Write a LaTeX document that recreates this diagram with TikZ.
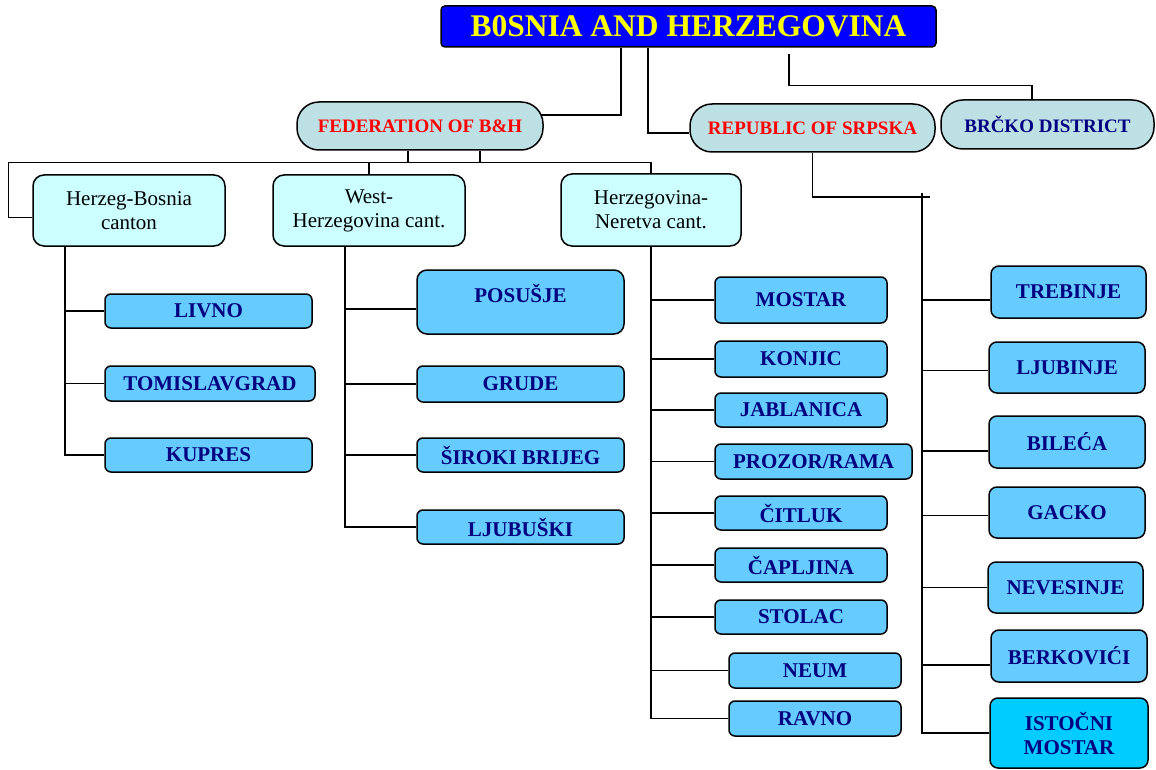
\documentclass[tikz,border=0pt]{standalone}
\usepackage{fontspec}
\setmainfont{Liberation Serif}
\usepackage{xcolor}
\definecolor{bhblue}{HTML}{0000FF}
\definecolor{bhyellow}{HTML}{FFFF00}
\definecolor{entityfill}{HTML}{BCE0E4}
\definecolor{entityred}{HTML}{FF0000}
\definecolor{cantonfill}{HTML}{CCFFFF}
\definecolor{townfill}{HTML}{66CCFF}
\definecolor{townfilldark}{HTML}{00CCFF}
\definecolor{navy}{HTML}{000080}

\begin{document}
\begin{tikzpicture}[x=1pt,y=1pt,yscale=-1,
	link/.style={line width=1.2pt},
	titlebox/.style={draw,line width=1.5pt,fill=bhblue,rounded corners=4pt,text=bhyellow,font=\fontsize{31.5}{34}\selectfont\bfseries,inner sep=0pt},
	entitybox/.style={draw,line width=1.5pt,fill=entityfill,rounded corners=22pt,font=\fontsize{19}{21}\selectfont\bfseries,inner sep=0pt,minimum height=48pt},
	cantonbox/.style={draw,line width=1.5pt,fill=cantonfill,rounded corners=11pt,align=center,font=\fontsize{21}{24}\selectfont,inner sep=0pt,minimum width=192pt,minimum height=71pt},
	townbox/.style={draw,line width=1.5pt,fill=townfill,rounded corners=6pt,text=navy,font=\fontsize{21}{24}\selectfont\bfseries,inner sep=0pt,minimum width=172pt,minimum height=34pt},
	rstownbox/.style={townbox,rounded corners=8pt,minimum width=156pt,minimum height=52pt}]
		\useasboundingbox (0,0) rectangle (1156,770);
		\node[titlebox,minimum width=495pt,minimum height=41pt] (bih) at (688.5,26.5) {B0SNIA AND HERZEGOVINA};
		\node[entitybox,text=entityred,minimum width=246pt] (fed) at (420,126) {FEDERATION OF B\&H};
		\node[entitybox,text=entityred,minimum width=245pt] (rs) at (812.5,128) {REPUBLIC OF SRPSKA};
		\node[entitybox,text=navy,minimum width=213pt,minimum height=49pt] (brcko) at (1047.5,124.5) {BRČKO DISTRICT};
		\node[cantonbox] (hb) at (129,210.5) {Herzeg-Bosnia\\canton};
		\node[cantonbox] (wh) at (369,210.5) {West-\\Herzegovina cant.};
		\node[cantonbox,minimum width=180pt,minimum height=72pt] (hn) at (651,210) {Herzegovina-\\Neretva cant.};
		\node[townbox,minimum width=207pt] (livno) at (208.5,311) {LIVNO};
		\node[townbox,minimum width=210pt,minimum height=35pt] (tomislav) at (210,383.5) {TOMISLAVGRAD};
		\node[townbox,minimum width=207pt] (kupres) at (208.5,455) {KUPRES};
		\node[townbox,minimum width=207pt,minimum height=64pt,rounded corners=10pt,text height=15pt,text depth=15pt] (posusje) at (520.5,302) {POSUŠJE};
		\node[townbox,minimum width=207pt,minimum height=36pt] (grude) at (520.5,384) {GRUDE};
		\node[townbox,minimum width=207pt] (siroki) at (520.5,455) {ŠIROKI BRIJEG};
		\node[townbox,minimum width=207pt] (ljubuski) at (520.5,527) {LJUBUŠKI};
		\node[townbox,minimum height=46pt] (mostar) at (801,300) {MOSTAR};
		\node[townbox,minimum height=36pt] (konjic) at (801,359) {KONJIC};
		\node[townbox] (jablanica) at (801,410) {JABLANICA};
		\node[townbox,minimum width=197pt,minimum height=35pt] (prozor) at (813.5,461.5) {PROZOR/RAMA};
		\node[townbox] (citluk) at (801,513) {ČITLUK};
		\node[townbox] (capljina) at (801,565) {ČAPLJINA};
		\node[townbox] (stolac) at (801,617) {STOLAC};
		\node[townbox,minimum height=35pt] (neum) at (815,670.5) {NEUM};
		\node[townbox,minimum height=35pt] (ravno) at (815,718.5) {RAVNO};
		\node[rstownbox,minimum width=155pt] (trebinje) at (1068.5,292) {TREBINJE};
		\node[rstownbox,minimum height=51pt] (ljubinje) at (1067,367.5) {LJUBINJE};
		\node[rstownbox] (bileca) at (1067,442) {BILEĆA};
		\node[rstownbox,minimum height=51pt] (gacko) at (1067,512.5) {GACKO};
		\node[rstownbox,minimum width=155pt,minimum height=51pt] (nevesinje) at (1065.5,587.5) {NEVESINJE};
		\node[rstownbox] (berkovici) at (1069,656) {BERKOVIĆI};
		\node[rstownbox,fill=townfilldark,minimum width=158pt,minimum height=70pt,align=center] (istocni) at (1069,733) {ISTOČNI\\MOSTAR};
		\draw[link] ([xshift=-67.5pt]bih.south) |- ([xshift=-3pt,yshift=-11pt]fed.east);
		\draw[link] ([xshift=-40.5pt]bih.south) |- ([yshift=5pt]rs.west);
		\draw[link] ([xshift=100.5pt,yshift=6pt]bih.south) -- ++(0,32) -| ([xshift=-15.5pt]brcko.north);
		\coordinate (fedbus) at ([xshift=-12pt,yshift=12pt]fed.south);
		\draw[link] ([xshift=-12pt]fed.south) -- (fedbus);
		\draw[link] ([xshift=60pt]fed.south) -- ++(0,12);
		\draw[link] ([yshift=7pt]hb.west) -- ++(-24,0) |- (fedbus) -| (hn.north);
		\draw[link] (fedbus -| wh.north) -- (wh.north);
		\coordinate (hbspine) at ([xshift=-64pt]hb.south);
		\coordinate (whspine) at ([xshift=-24pt]wh.south);
		\draw[link] (hbspine) |- (kupres.west);
		\foreach \town in {livno,tomislav}
			\draw[link] (hbspine |- \town.west) -- (\town.west);
		\draw[link] (whspine) |- (ljubuski.west);
		\draw[link] (whspine |- posusje.west) ++(0,7) -- ([yshift=7pt]posusje.west);
		\foreach \town in {grude,siroki}
			\draw[link] (whspine |- \town.west) -- (\town.west);
		\draw[link] (hn.south) |- (ravno.west);
		\foreach \town in {mostar,konjic,jablanica,prozor,citluk,capljina,stolac,neum}
			\draw[link] (hn.south |- \town.west) -- (\town.west);
		\coordinate (rsspine) at (922,193);
		\draw[link] (rs.south) |- ([xshift=8pt,yshift=4pt]rsspine);
		\draw[link] (rsspine) |- (istocni.west);
		\foreach \town/\dy in {trebinje/8,ljubinje/3,bileca/9,gacko/3,nevesinje/0,berkovici/9}
			\draw[link] (rsspine |- \town.west) ++(0,\dy) -- ([yshift=\dy pt]\town.west);
\end{tikzpicture}
\end{document}
